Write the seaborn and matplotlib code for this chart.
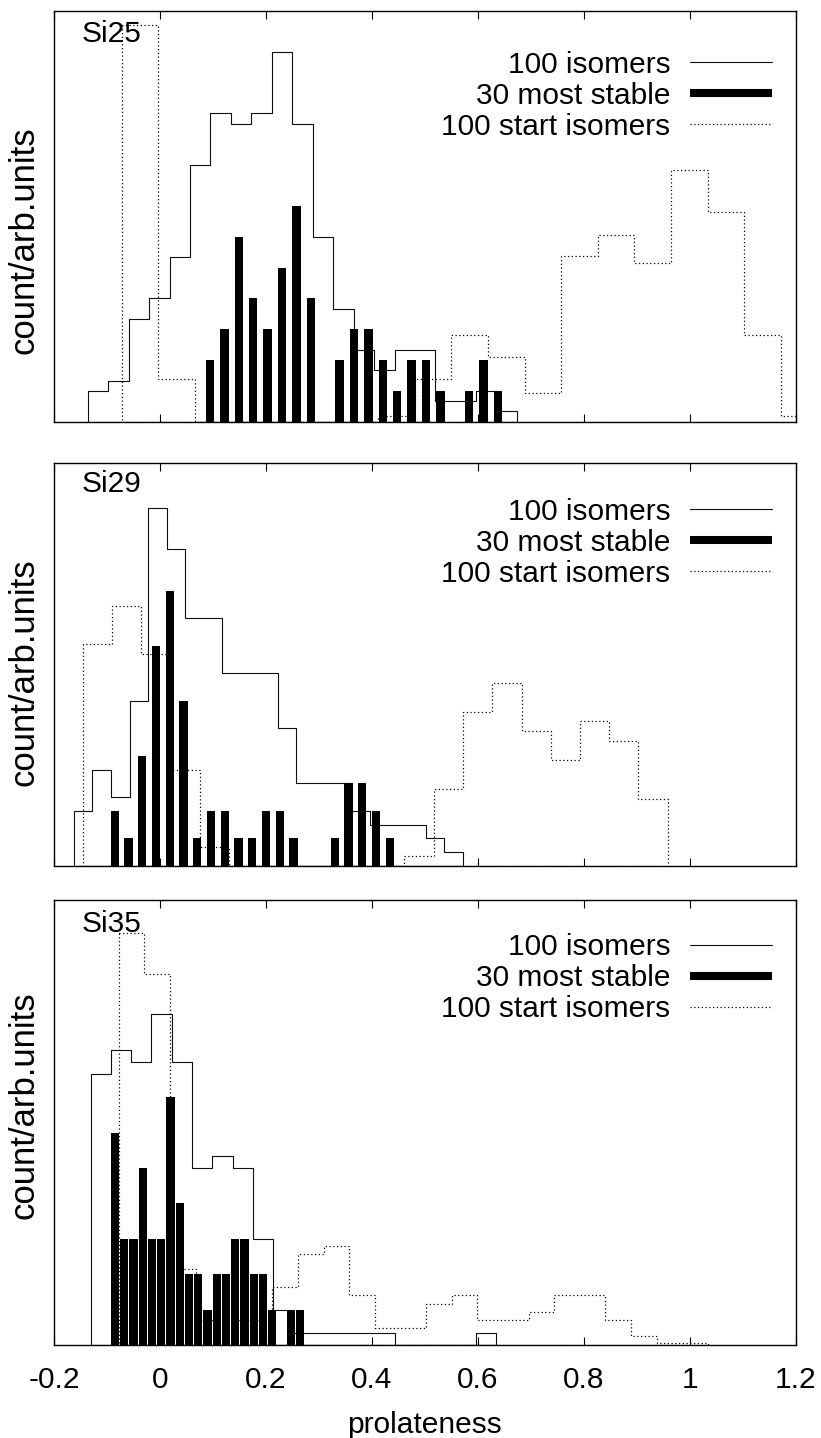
import numpy as np
import matplotlib
matplotlib.use("Agg")
import matplotlib.pyplot as plt
from matplotlib.lines import Line2D
import seaborn as sns

# ---------------- data (bin centres in prolateness, heights in arb. units) -------------
# Si25
si25_iso_x = [-0.1171, -0.0785, -0.0399, -0.0013, 0.0373, 0.0759, 0.1145, 0.1531, 0.1917, 0.2303,
              0.2689, 0.3075, 0.3461, 0.3847, 0.4233, 0.4619, 0.5005, 0.5391, 0.5777, 0.6163, 0.6549]
si25_iso_y = [3, 4, 10, 12, 16, 25, 30, 29, 30, 36, 29, 18, 11, 7, 5, 7, 7, 2, 2, 3, 1]
si25_iso_w = 0.0386
si25_stab_x = [0.0942, 0.1214, 0.1486, 0.1757, 0.2029, 0.2301, 0.2573, 0.2844, 0.3116, 0.3388, 0.3660,
               0.3931, 0.4203, 0.4475, 0.4747, 0.5018, 0.5290, 0.5562, 0.5834, 0.6105, 0.6377]
si25_stab_y = [6, 9, 18, 12, 9, 15, 21, 12, 0, 6, 9, 9, 6, 3, 6, 6, 3, 0, 3, 6, 3]
si25_stab_w = 0.02717
si25_start_x = [-0.0377, 0.0314, 0.1005, 0.1696, 0.2387, 0.3078, 0.3769, 0.4460, 0.5151, 0.5842,
                0.6533, 0.7224, 0.7915, 0.8606, 0.9297, 0.9988, 1.0679, 1.1370, 1.2061]
si25_start_y = [38.6, 4.2, 0, 0, 0, 0, 0, 0.6, 4.2, 8.4, 6.3, 2.8, 16.1, 18.2, 15.4, 24.5, 20.4, 8.4, 0.6]
si25_start_w = 0.0691

# Si29
si29_iso_x = [-0.1448, -0.1099, -0.0750, -0.0400, -0.0051, 0.0298, 0.0647, 0.0996, 0.1346, 0.1695,
              0.2044, 0.2393, 0.2742, 0.3092, 0.3441, 0.3790, 0.4139, 0.4488, 0.4838, 0.5187, 0.5536]
si29_iso_y = [4, 7, 5, 12, 26, 23, 18, 18, 14, 14, 14, 10, 6, 6, 6, 4, 3, 3, 3, 2, 1]
si29_iso_w = 0.03492
si29_stab_x = [-0.0853, -0.0594, -0.0334, -0.0075, 0.0185, 0.0444, 0.0704, 0.0963, 0.1222, 0.1482, 0.1741,
               0.2001, 0.2260, 0.2519, 0.2779, 0.3038, 0.3298, 0.3557, 0.3816, 0.4076, 0.4335]
si29_stab_y = [4, 2, 8, 16, 20, 12, 2, 4, 4, 2, 2, 4, 4, 2, 0, 0, 2, 6, 6, 4, 2]
si29_stab_w = 0.02594
si29_start_x = [-0.1182, -0.0630, -0.0078, 0.0474, 0.1026, 0.1578, 0.2129, 0.2681, 0.3233, 0.3785,
                0.4337, 0.4889, 0.5441, 0.5993, 0.6545, 0.7097, 0.7648, 0.8200, 0.8752, 0.9304]
si29_start_y = [16.1, 18.9, 15.4, 7.0, 1.4, 0, 0, 0, 0, 0, 0, 0.7, 5.6, 11.2, 13.3, 9.8, 7.7, 10.5, 9.1, 4.9]
si29_start_w = 0.05519

# Si35
si35_iso_x = [-0.1116, -0.0734, -0.0352, 0.0030, 0.0412, 0.0795, 0.1177, 0.1559, 0.1941, 0.2323,
              0.2705, 0.3087, 0.3469, 0.3852, 0.4234, 0.4616, 0.4998, 0.5380, 0.5762, 0.6144]
si35_iso_y = [23, 25, 24, 28, 24, 15, 16, 15, 9, 3, 1, 1, 1, 1, 1, 0, 0, 0, 0, 1]
si35_iso_w = 0.03821
si35_stab_x = [-0.0849, -0.0674, -0.0500, -0.0325, -0.0151, 0.0024, 0.0198, 0.0373, 0.0547, 0.0722, 0.0896,
               0.1071, 0.1245, 0.1420, 0.1594, 0.1769, 0.1943, 0.2118, 0.2292, 0.2467, 0.2641]
si35_stab_y = [18, 9, 9, 15, 9, 9, 21, 12, 6, 6, 3, 6, 6, 9, 9, 6, 6, 3, 0, 3, 3]
si35_stab_w = 0.01745
si35_start_x = [-0.0538, -0.0054, 0.0429, 0.0913, 0.1396, 0.1879, 0.2363, 0.2846, 0.3330, 0.3813, 0.4296,
                0.4780, 0.5263, 0.5747, 0.6230, 0.6713, 0.7197, 0.7680, 0.8164, 0.8647, 0.9130, 0.9614, 1.0097]
si35_start_y = [34.9, 31.4, 6.4, 2.1, 2.1, 2.1, 4.9, 7.7, 8.4, 4.2, 1.4, 1.4, 3.5, 4.2, 2.1, 2.1, 2.8,
                4.2, 4.2, 2.1, 0.8, 0.2, 0.2]
si35_start_w = 0.04834

panel_names = ["Si25", "Si29", "Si35"]
legend_labels = ["100 isomers", "30 most stable", "100 start isomers"]
x_ticks = [-0.2, 0, 0.2, 0.4, 0.6, 0.8, 1.0, 1.2]
x_ticklabels = ["-0.2", "0", "0.2", "0.4", "0.6", "0.8", "1", "1.2"]

panels = [
    dict(iso=(si25_iso_x, si25_iso_y, si25_iso_w), stab=(si25_stab_x, si25_stab_y, si25_stab_w),
         start=(si25_start_x, si25_start_y, si25_start_w)),
    dict(iso=(si29_iso_x, si29_iso_y, si29_iso_w), stab=(si29_stab_x, si29_stab_y, si29_stab_w),
         start=(si29_start_x, si29_start_y, si29_start_w)),
    dict(iso=(si35_iso_x, si35_iso_y, si35_iso_w), stab=(si35_stab_x, si35_stab_y, si35_stab_w),
         start=(si35_start_x, si35_start_y, si35_start_w)),
]

# ---------------- layout / style -------------
W, H = 821, 1438
LEFT, RIGHT = 54, 796
panel_px = [(10.7, 421.7), (463, 866), (900, 1345)]   # (top, bottom) in pixels
ylims = [40.0, 29.27, 37.7]
legend_line_y = [61.7, 509.0, 944.3]
label_base_y = [41.7, 491.7, 931.7]
ylabel_cy = [240, 672, 1105]
BAR_W = 0.0157
FS = 21.5
YFS = 25
DOT = (0, (1, 2))

sns.set_theme(style="white")
plt.rcParams['font.family'] = ['Liberation Sans', 'DejaVu Sans']
plt.rcParams['axes.edgecolor'] = 'black'
plt.rcParams['text.color'] = 'black'
plt.rcParams['legend.labelcolor'] = 'black'
plt.rcParams['xtick.color'] = 'black'

fig = plt.figure(figsize=(W / 100, H / 100), dpi=100)


def edges(c, w):
    c = np.asarray(c, dtype=float)
    return np.append(c - w / 2, c[-1] + w / 2).tolist()


for i, p in enumerate(panels):
    top, bot = panel_px[i]
    ax = fig.add_axes([LEFT / W, 1 - bot / H, (RIGHT - LEFT) / W, (bot - top) / H])

    # 100 isomers: thin solid step outline
    x, y, w = p["iso"]
    sns.histplot(x=x, weights=y, bins=edges(x, w), element="step", fill=True, color="black",
                 facecolor="none", edgecolor="#111111", linewidth=0.8, alpha=1, ax=ax)
    # 100 start isomers: dotted step outline
    x, y, w = p["start"]
    sns.histplot(x=x, weights=y, bins=edges(x, w), element="step", fill=True, color="black",
                 facecolor="none", edgecolor="black", linewidth=0.9, linestyle=DOT, alpha=1, ax=ax)
    # 30 most stable: narrow black boxes
    x, y, w = p["stab"]
    sns.histplot(x=x, weights=y, bins=edges(x, w), element="bars", shrink=BAR_W / w, fill=True,
                 color="black", facecolor="black", edgecolor="none", linewidth=0, alpha=1, ax=ax)

    ax.set_xlim(-0.2, 1.2)
    ax.set_ylim(0, ylims[i])
    ax.set_xlabel("")
    ax.set_ylabel("")
    ax.set_xticks(x_ticks)
    ax.set_xticklabels(x_ticklabels)
    ax.set_yticks([])
    ax.tick_params(axis="x", direction="in", length=5.5, width=0.8, top=True, bottom=True,
                   labelbottom=(i == 2), labelsize=FS, pad=15, colors="black")
    for s in ax.spines.values():
        s.set_visible(True)
        s.set_color("black")
        s.set_linewidth(1.0)

    handles = [Line2D([], [], color="#111111", lw=0.8),
               Line2D([], [], color="black", lw=5.8, solid_capstyle="butt"),
               Line2D([], [], color="black", lw=0.9, linestyle=DOT)]
    leg_top = legend_line_y[i] - 11.1
    ax.legend(handles, legend_labels, loc="upper right", markerfirst=False, frameon=False,
              fontsize=FS, handlelength=2.75, handletextpad=0.66, labelspacing=0.1,
              borderpad=0, borderaxespad=0,
              bbox_to_anchor=(772.3 / W, 1 - leg_top / H), bbox_transform=fig.transFigure)

    fig.text(81.7 / W, 1 - label_base_y[i] / H, panel_names[i], fontsize=FS,
             ha="left", va="baseline", color="black")
    fig.text(24 / W, 1 - ylabel_cy[i] / H, "count/arb.units", fontsize=YFS, rotation=90,
             ha="center", va="center", color="black")

fig.text(424 / W, 1 - 1433 / H, "prolateness", fontsize=FS, ha="center", va="baseline", color="black")

fig.savefig("out.png", dpi=100)
